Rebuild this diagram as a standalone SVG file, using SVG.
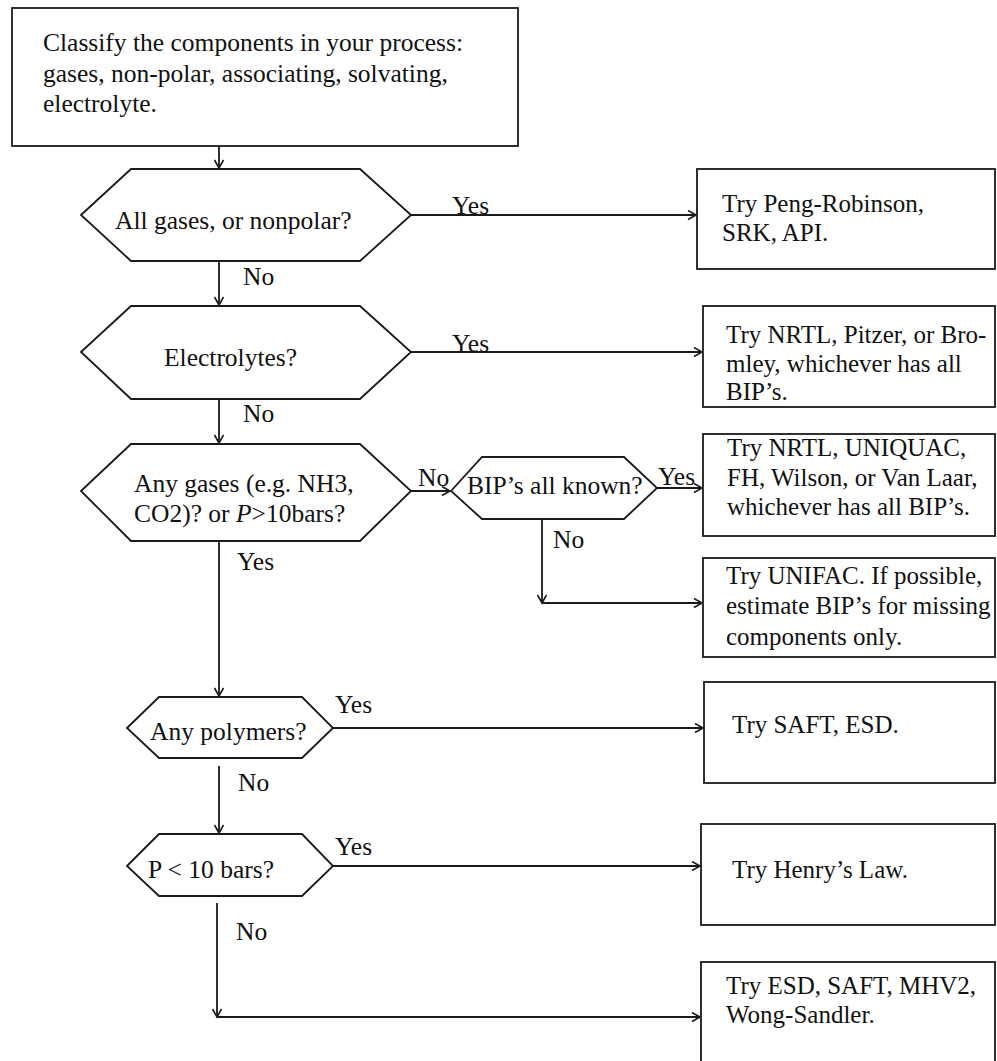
<svg xmlns="http://www.w3.org/2000/svg" width="997" height="1061" viewBox="0 0 997 1061">
<style>
.shape{fill:#fff;stroke:#1a1a1a;stroke-width:1.8}
.conn{fill:none;stroke:#1a1a1a;stroke-width:1.8}
text{font-family:"Liberation Serif","Times New Roman",serif;font-size:25.5px;fill:#111}
.res text{font-size:25px}
</style>
<defs>
<marker id="arr" markerUnits="userSpaceOnUse" markerWidth="12" markerHeight="12" refX="9" refY="5" orient="auto">
<path d="M1,0.5 L9,5 L1,9.5" fill="none" stroke="#1a1a1a" stroke-width="1.6"/>
</marker>
</defs>
<rect width="997" height="1061" fill="#fff"/>

<g id="connectors">
<path class="conn" d="M219,146 V168" marker-end="url(#arr)"/>
<path class="conn" d="M411,215 H696" marker-end="url(#arr)"/>
<path class="conn" d="M219,261 V305" marker-end="url(#arr)"/>
<path class="conn" d="M411,352 H702" marker-end="url(#arr)"/>
<path class="conn" d="M219,399 V443" marker-end="url(#arr)"/>
<path class="conn" d="M411,491 H450" marker-end="url(#arr)"/>
<path class="conn" d="M657,488 H702" marker-end="url(#arr)"/>
<path class="conn" d="M542,519 V603" marker-end="url(#arr)"/>
<path class="conn" d="M542,603 H702" marker-end="url(#arr)"/>
<path class="conn" d="M219,541 V696" marker-end="url(#arr)"/>
<path class="conn" d="M333,728 H703" marker-end="url(#arr)"/>
<path class="conn" d="M219,766 V833" marker-end="url(#arr)"/>
<path class="conn" d="M333,866 H700" marker-end="url(#arr)"/>
<path class="conn" d="M217,903 V1017" marker-end="url(#arr)"/>
<path class="conn" d="M217,1017 H700" marker-end="url(#arr)"/>
<text x="452" y="214">Yes</text>
<text x="243" y="285">No</text>
<text x="452" y="352">Yes</text>
<text x="243" y="422">No</text>
<text x="418" y="486">No</text>
<text x="658" y="485">Yes</text>
<text x="553" y="548">No</text>
<text x="237" y="570">Yes</text>
<text x="335" y="713">Yes</text>
<text x="238" y="791">No</text>
<text x="335" y="855">Yes</text>
<text x="236" y="940">No</text>
</g>

<g id="start">
<rect class="shape" x="12" y="8" width="506" height="138"/>
<text x="43" y="51">Classify the components in your process:</text>
<text x="43" y="82">gases, non-polar, associating, solvating,</text>
<text x="43" y="112">electrolyte.</text>
</g>

<g id="q-nonpolar">
<polygon class="shape" points="81,215 131,169 360,169 411,215 360,261 131,261"/>
<text x="115" y="229">All gases, or nonpolar?</text>
</g>

<g id="q-electrolytes">
<polygon class="shape" points="81,352 131,306 360,306 411,352 360,399 131,399"/>
<text x="164" y="366">Electrolytes?</text>
</g>

<g id="q-gases">
<polygon class="shape" points="81,491 131,444 360,444 411,491 360,541 131,541"/>
<text x="134" y="492">Any gases (e.g. NH3,</text>
<text x="134" y="522">CO2)? or <tspan font-style="italic">P</tspan>&gt;10bars?</text>
</g>

<g id="q-bip">
<polygon class="shape" points="451,491 482,457 624,457 657,488 624,519 482,519"/>
<text x="467" y="494">BIP’s all known?</text>
</g>

<g id="q-polymers">
<polygon class="shape" points="127,728 159,697 302,697 333,728 302,758 159,758"/>
<text x="150" y="740">Any polymers?</text>
</g>

<g id="q-pressure">
<polygon class="shape" points="127,866 159,834 302,834 333,866 302,896 159,896"/>
<text x="148" y="878">P &lt; 10 bars?</text>
</g>

<g id="r-peng" class="res">
<rect class="shape" x="697" y="169" width="298" height="100"/>
<text x="722" y="212">Try Peng-Robinson,</text>
<text x="722" y="241">SRK, API.</text>
</g>

<g id="r-nrtl-pitzer" class="res">
<rect class="shape" x="703" y="306" width="292" height="101"/>
<text x="726" y="343">Try NRTL, Pitzer, or Bro-</text>
<text x="726" y="372">mley, whichever has all</text>
<text x="726" y="400">BIP’s.</text>
</g>

<g id="r-nrtl-uniquac" class="res">
<rect class="shape" x="703" y="434" width="292" height="102"/>
<text x="727" y="456">Try NRTL, UNIQUAC,</text>
<text x="727" y="486">FH, Wilson, or Van Laar,</text>
<text x="727" y="515">whichever has all BIP’s.</text>
</g>

<g id="r-unifac" class="res">
<rect class="shape" x="703" y="558" width="292" height="99"/>
<text x="726" y="584">Try UNIFAC. If possible,</text>
<text x="726" y="614">estimate BIP’s for missing</text>
<text x="726" y="645">components only.</text>
</g>

<g id="r-saft" class="res">
<rect class="shape" x="704" y="682" width="291" height="101"/>
<text x="732" y="733">Try SAFT, ESD.</text>
</g>

<g id="r-henry" class="res">
<rect class="shape" x="701" y="824" width="294" height="101"/>
<text x="732" y="878">Try Henry’s Law.</text>
</g>

<g id="r-esd" class="res">
<rect class="shape" x="701" y="962" width="294" height="110"/>
<text x="726" y="994">Try ESD, SAFT, MHV2,</text>
<text x="726" y="1023">Wong-Sandler.</text>
</g>
</svg>
